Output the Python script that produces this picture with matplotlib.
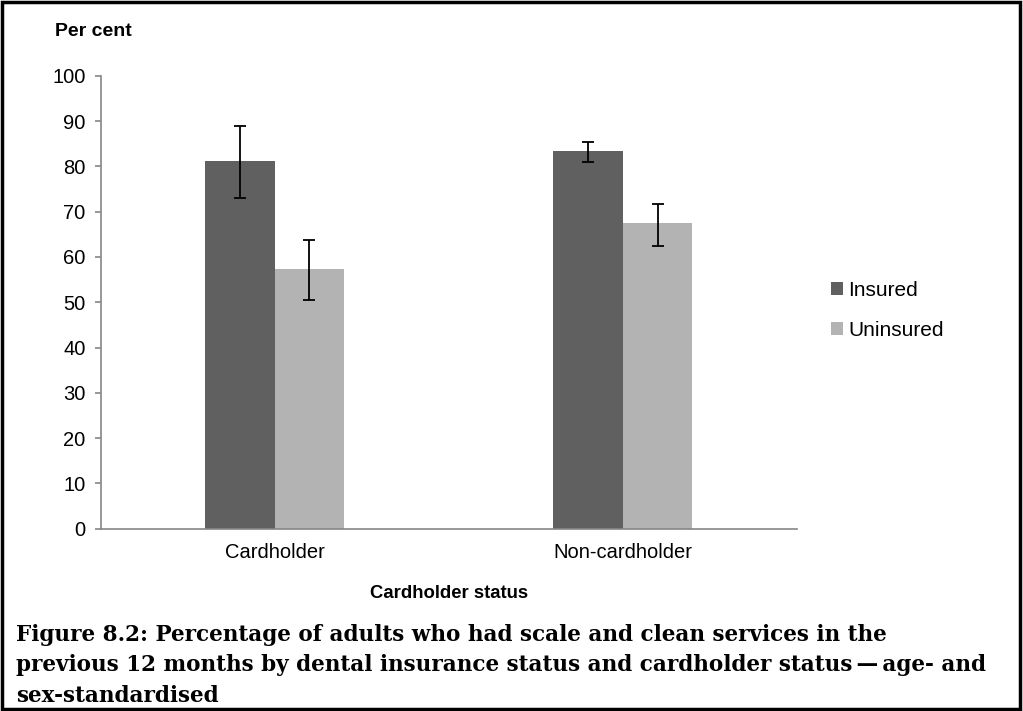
"""
Scale and clean services by dental insurance and cardholder status.
"""

import matplotlib.pyplot as plt
from matplotlib.patches import Rectangle
import numpy as np

categories = ["Cardholder", "Non-cardholder"]
series_names = ["Insured", "Uninsured"]
insured = [81.1, 83.4]
insured_lo = [73.0, 81.0]
insured_hi = [88.9, 85.4]
uninsured = [57.3, 67.5]
uninsured_lo = [50.6, 62.5]
uninsured_hi = [63.8, 71.7]
y_ticks = [0, 10, 20, 30, 40, 50, 60, 70, 80, 90, 100]

caption = (
    "Figure 8.2: Percentage of adults who had scale and clean services in the\n"
    "previous 12 months by dental insurance status and cardholder status\u2009\u2014\u2009age- and\n"
    "sex-standardised"
)

plt.rcParams["font.family"] = ["Liberation Sans", "DejaVu Sans"]

fig = plt.figure(figsize=(10.23, 7.11), dpi=100)
ax = fig.add_axes([0.0984, 0.2564, 0.6804, 0.637])

x = np.arange(len(categories))
w = 0.2
axis_grey = "#868686"

for vals, lo, hi, off, col, name in [
    (insured, insured_lo, insured_hi, -w / 2, "#606060", series_names[0]),
    (uninsured, uninsured_lo, uninsured_hi, w / 2, "#b3b3b3", series_names[1]),
]:
    vals = np.array(vals)
    err = [vals - np.array(lo), np.array(hi) - vals]
    ax.bar(x + off, vals, width=w, color=col, label=name, zorder=2)
    ax.errorbar(x + off, vals, yerr=err, fmt="none", ecolor="black",
                elinewidth=1.3, capsize=4.3, capthick=1.3, zorder=3)

ax.set_xlim(-0.5, 1.5)
ax.set_ylim(0, 100)
ax.set_yticks(y_ticks)
ax.set_xticks(x)
ax.set_xticklabels(categories)
ax.tick_params(axis="y", labelsize=14.5, color=axis_grey, length=4,
               width=1.2, pad=7)
ax.tick_params(axis="x", labelsize=14.5, length=0, pad=10)

for side in ["top", "right"]:
    ax.spines[side].set_visible(False)
for side in ["left", "bottom"]:
    ax.spines[side].set_color(axis_grey)
    ax.spines[side].set_linewidth(1.2)

ax.set_xlabel("Cardholder status", fontsize=13.3, fontweight="bold", labelpad=17)

fig.text(0.054, 0.955, "Per cent", fontsize=14, fontweight="bold",
         va="center", ha="left")

ax.legend(loc="center left", bbox_to_anchor=(1.049, 0.482), frameon=False,
          fontsize=15, handlelength=0.58, handleheight=0.58,
          handletextpad=0.25, labelspacing=1.0, borderpad=0,
          borderaxespad=0)

fig.text(0.016, 0.123, caption, fontsize=15.5, fontweight="bold",
         family=["DejaVu Serif"], va="top", ha="left",
         linespacing=1.5)

fig.patches.append(Rectangle((0.002, 0.003), 0.995, 0.994,
                             transform=fig.transFigure, fill=False,
                             edgecolor="black", linewidth=2.5))

fig.savefig("out.png", dpi=100)
